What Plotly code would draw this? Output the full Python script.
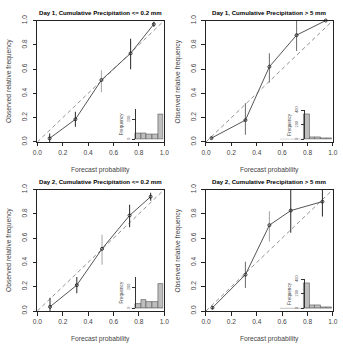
import plotly.graph_objects as go

W, H = 343, 349

# ---------------- data ----------------
titles = ["Day 1, Cumulative Precipitation &lt;= 0.2 mm",
          "Day 1, Cumulative Precipitation &gt; 5 mm",
          "Day 2, Cumulative Precipitation &lt;= 0.2 mm",
          "Day 2, Cumulative Precipitation &gt; 5 mm"]
x_title = "Forecast probability"
y_title = "Observed relative frequency"
hist_title = "Frequency"

ticks_main = [0.0, 0.2, 0.4, 0.6, 0.8, 1.0]
diag = [0.0, 1.0]
bin_centers = [0.1, 0.3, 0.5, 0.7, 0.9]

p1_fc = [0.097, 0.300, 0.505, 0.735, 0.918]
p1_obs = [0.030, 0.187, 0.510, 0.730, 0.970]
p1_lo = [0.000, 0.125, 0.410, 0.600, 0.950]
p1_hi = [0.070, 0.250, 0.590, 0.850, 0.990]
p1_hist = [60, 60, 55, 55, 248]
p1_hticks = [0, 200]

p2_fc = [0.043, 0.311, 0.500, 0.714, 0.944]
p2_obs = [0.032, 0.180, 0.620, 0.880, 1.000]
p2_lo = [0.022, 0.060, 0.490, 0.750, 1.000]
p2_hi = [0.042, 0.320, 0.730, 1.000, 1.000]
p2_hist = [340, 31, 31, 22, 13]
p2_hticks = [0, 200, 400]

p3_fc = [0.100, 0.311, 0.510, 0.727, 0.893]
p3_obs = [0.035, 0.213, 0.512, 0.787, 0.941]
p3_lo = [0.000, 0.147, 0.380, 0.690, 0.907]
p3_hi = [0.110, 0.280, 0.627, 0.875, 0.973]
p3_hist = [43, 77, 58, 65, 237]
p3_hticks = [0, 200]

p4_fc = [0.051, 0.311, 0.500, 0.668, 0.918]
p4_obs = [0.027, 0.299, 0.707, 0.827, 0.901]
p4_lo = [0.015, 0.190, 0.573, 0.645, 0.779]
p4_hi = [0.040, 0.405, 0.821, 1.000, 1.000]
p4_hist = [340, 44, 44, 18, 9]
p4_hticks = [0, 200, 400]

panels = [
    (p1_fc, p1_obs, p1_lo, p1_hi, p1_hist, p1_hticks),
    (p2_fc, p2_obs, p2_lo, p2_hi, p2_hist, p2_hticks),
    (p3_fc, p3_obs, p3_lo, p3_hi, p3_hist, p3_hticks),
    (p4_fc, p4_obs, p4_lo, p4_hi, p4_hist, p4_hticks),
]

# ---------------- style / layout ----------------
DARK, MID, LIGHT = "#3a3a3a", "#777777", "#ababab"
bar_shades = [
    [DARK, DARK, LIGHT, DARK, DARK],
    [MID, MID, MID, MID, MID],
    [DARK, DARK, LIGHT, DARK, DARK],
    [DARK, MID, LIGHT, DARK, DARK],
]
FONT = "Liberation Sans, Arial, Helvetica, sans-serif"

# main plot boxes in pixels: x0, x1, ytop, ybottom
main_boxes = [(33.3, 164.0, 15, 140), (207.0, 337.7, 15, 140),
              (33.3, 164.0, 189, 314), (207.0, 337.7, 189, 314)]
# inset: left edge of baseline, axis x, right edge, baseline y, px per 100, ymax
inset_boxes = [(130.0, 134.3, 163.3, 137.3, 10.3, 300),
               (283.0, 307.7, 336.7, 137.3, 7.5, 400),
               (130.0, 134.3, 163.3, 311.3, 10.8, 300),
               (283.0, 307.7, 336.7, 311.3, 7.5, 400)]


def fx(p):
    return p / W


def fy(p):
    return 1 - p / H


fig = go.Figure()
layout = dict(width=W, height=H, margin=dict(l=0, r=0, t=0, b=0),
              paper_bgcolor="white", plot_bgcolor="rgba(0,0,0,0)",
              showlegend=False, font=dict(family=FONT, color="#333"))
annotations = []

for i, (fc, obs, lo, hi, hist, hticks) in enumerate(panels):
    m = i + 1
    n = i + 5
    xa = "x" if m == 1 else f"x{m}"
    ya = "y" if m == 1 else f"y{m}"
    xi, yi = f"x{n}", f"y{n}"
    x0, x1, yt, yb = main_boxes[i]

    layout["xaxis" if m == 1 else f"xaxis{m}"] = dict(
        domain=[fx(x0), fx(x1)], range=[0, 1], anchor=ya,
        showline=True, mirror=True, linecolor="#222", linewidth=1,
        ticks="outside", ticklen=3.5, tickwidth=0.8, tickcolor="#222",
        tickvals=ticks_main, tickformat=".1f", showgrid=False, zeroline=False,
        tickfont=dict(size=6.6, color="#444", family=FONT), ticklabelstandoff=1)
    layout["yaxis" if m == 1 else f"yaxis{m}"] = dict(
        domain=[fy(yb), fy(yt)], range=[0, 1], anchor=xa,
        showline=True, mirror=True, linecolor="#222", linewidth=1,
        ticks="outside", ticklen=3.5, tickwidth=0.8, tickcolor="#222",
        tickvals=ticks_main, tickformat=".1f", showgrid=False, zeroline=False,
        tickangle=-90, tickfont=dict(size=6.6, color="#444", family=FONT),
        ticklabelstandoff=3)

    # inset axes
    bl, ax_x, br, base, pp100, ymax = inset_boxes[i]
    xmin = -(ax_x - bl) / (br - ax_x)
    ytop_px = base - pp100 * ymax / 100
    layout[f"xaxis{n}"] = dict(domain=[fx(bl), fx(br)], range=[xmin, 1], anchor=yi,
                               visible=False, fixedrange=True)
    layout[f"yaxis{n}"] = dict(
        domain=[fy(base), fy(ytop_px)], range=[0, ymax], anchor="free",
        position=fx(ax_x), showline=True, linecolor="#333", linewidth=0.8,
        ticks="outside", ticklen=3, tickwidth=0.7, tickcolor="#333",
        tickvals=hticks, tickangle=-90, showgrid=False, zeroline=False,
        tickfont=dict(size=3.8, color="#555", family=FONT), ticklabelstandoff=1,
        title=dict(text=hist_title, font=dict(size=4.6, color="#444", family=FONT),
                   standoff=2))

    # diagonal
    fig.add_trace(go.Scatter(x=diag, y=diag, xaxis=xa, yaxis=ya, mode="lines",
                             line=dict(color="#777", width=0.8, dash="4px,3px"),
                             hoverinfo="skip"))
    # error bars grouped by shade
    for shade in (LIGHT, MID, DARK):
        ex, ey = [], []
        for k in range(len(fc)):
            if bar_shades[i][k] == shade:
                ex += [fc[k], fc[k], None]
                ey += [lo[k], hi[k], None]
        if ex:
            fig.add_trace(go.Scatter(x=ex, y=ey, xaxis=xa, yaxis=ya, mode="lines",
                                     line=dict(color=shade, width=1.1),
                                     hoverinfo="skip"))
    # reliability curve
    fig.add_trace(go.Scatter(x=fc, y=obs, xaxis=xa, yaxis=ya, mode="lines+markers",
                             line=dict(color="#555", width=1),
                             marker=dict(symbol="circle-open", size=3, color="#222",
                                         line=dict(width=0.9, color="#222")),
                             cliponaxis=False))
    # inset histogram
    fig.add_trace(go.Scatter(x=[xmin, 1], y=[0, 0], xaxis=xi, yaxis=yi, mode="lines",
                             line=dict(color="#777", width=0.8), hoverinfo="skip"))
    fig.add_trace(go.Bar(x=bin_centers, y=hist, width=0.2, xaxis=xi, yaxis=yi,
                         marker=dict(color="#bebebe", line=dict(color="#555", width=0.6))))

    cx = fx((x0 + x1) / 2)
    annotations.append(dict(text="<b>" + titles[i] + "</b>", x=cx, y=fy(yt - 8),
                            xref="paper", yref="paper", showarrow=False,
                            xanchor="center", yanchor="middle",
                            font=dict(size=6.1, color="#000", family=FONT)))
    annotations.append(dict(text=x_title, x=cx, y=fy(yb + 29), xref="paper", yref="paper",
                            showarrow=False, xanchor="center", yanchor="middle",
                            font=dict(size=6.7, color="#444", family=FONT)))
    annotations.append(dict(text=y_title, x=fx(x0 - 28.5), y=fy((yt + yb) / 2),
                            xref="paper", yref="paper", showarrow=False, textangle=-90,
                            xanchor="center", yanchor="middle",
                            font=dict(size=6.7, color="#444", family=FONT)))

layout["annotations"] = annotations
layout["bargap"] = 0
fig.update_layout(**layout)
fig.write_html("out.html")
